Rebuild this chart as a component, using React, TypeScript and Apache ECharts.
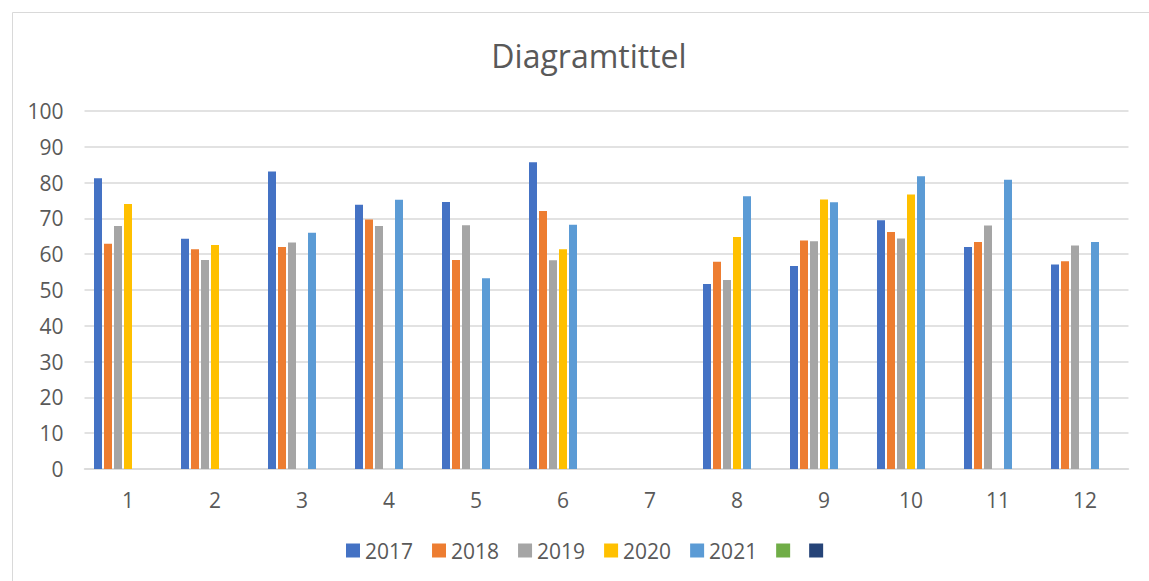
import React, { useEffect, useRef } from "react";
import * as echarts from "echarts";

const categories = ["1", "2", "3", "4", "5", "6", "7", "8", "9", "10", "11", "12"];
const seriesNames = ["2017", "2018", "2019", "2020", "2021", "s6", "s7"];
const v2017 = [81.2, 64.3, 83.1, 73.8, 74.6, 85.7, null, 51.7, 56.7, 69.5, 62.0, 57.1];
const v2018 = [62.9, 61.4, 62.0, 69.7, 58.4, 72.1, null, 57.9, 63.8, 66.2, 63.4, 58.0];
const v2019 = [67.9, 58.4, 63.3, 67.9, 68.1, 58.3, null, 52.8, 63.6, 64.4, 68.0, 62.4];
const v2020 = [74.0, 62.6, null, null, null, 61.4, null, 64.8, 75.3, 76.7, null, null];
const v2021 = [null, null, 66.0, 75.2, 53.3, 68.2, null, 76.2, 74.5, 81.8, 80.8, 63.4];
const v6 = [null, null, null, null, null, null, null, null, null, null, null, null];
const v7 = [null, null, null, null, null, null, null, null, null, null, null, null];
const seriesValues = [v2017, v2018, v2019, v2020, v2021, v6, v7];
const colors = ["#4472C4", "#ED7D31", "#A5A5A5", "#FFC000", "#5B9BD5", "#70AD47", "#264478"];

const FONT = "Open Sans";

export default function App() {
  const ref = useRef<HTMLDivElement>(null);
  useEffect(() => {
    if (!ref.current) return;
    const chart = echarts.init(ref.current, undefined, { renderer: "svg" });
    chart.setOption({
      animation: false,
      backgroundColor: "#ffffff",
      title: {
        text: "Diagramtittel",
        left: 584,
        textAlign: "center",
        top: 34,
        textStyle: { fontFamily: FONT, fontSize: 32, fontWeight: "normal", color: "#595959" },
      },
      graphic: [
        {
          type: "rect",
          shape: { x: 12.5, y: 12.5, width: 1160, height: 600 },
          style: { fill: "none", stroke: "#d9d9d9", lineWidth: 1 },
          silent: true,
        },
      ],
      legend: {
        bottom: 15,
        left: 341,
        itemWidth: 14,
        itemHeight: 14,
        itemGap: 19,
        icon: "rect",
        data: seriesNames,
        formatter: (name: string) => (name === "s6" || name === "s7" ? "" : name),
        textStyle: { fontFamily: FONT, fontSize: 21, color: "#595959" },
      },
      grid: { left: 84.5, right: 20.5, top: 111, bottom: 112 },
      xAxis: {
        type: "category",
        data: categories,
        axisTick: { show: false },
        axisLine: { lineStyle: { color: "#d9d9d9", width: 1.5 } },
        axisLabel: { fontFamily: FONT, fontSize: 21, color: "#595959", margin: 20 },
      },
      yAxis: {
        type: "value",
        min: 0,
        max: 100,
        interval: 10,
        axisLine: { show: false },
        axisTick: { show: false },
        splitLine: { lineStyle: { color: "#d9d9d9", width: 1.5 } },
        axisLabel: { fontFamily: FONT, fontSize: 21, color: "#595959", margin: 21 },
      },
      series: seriesNames.map((name, i) => ({
        type: "bar",
        name,
        data: seriesValues[i],
        barWidth: 8,
        barGap: "25%",
        itemStyle: { color: colors[i] },
      })),
    });
    return () => chart.dispose();
  }, []);
  return (
    <div
      ref={ref}
      style={{ position: "absolute", left: 0, top: 0, width: 1149, height: 581 }}
    />
  );
}
